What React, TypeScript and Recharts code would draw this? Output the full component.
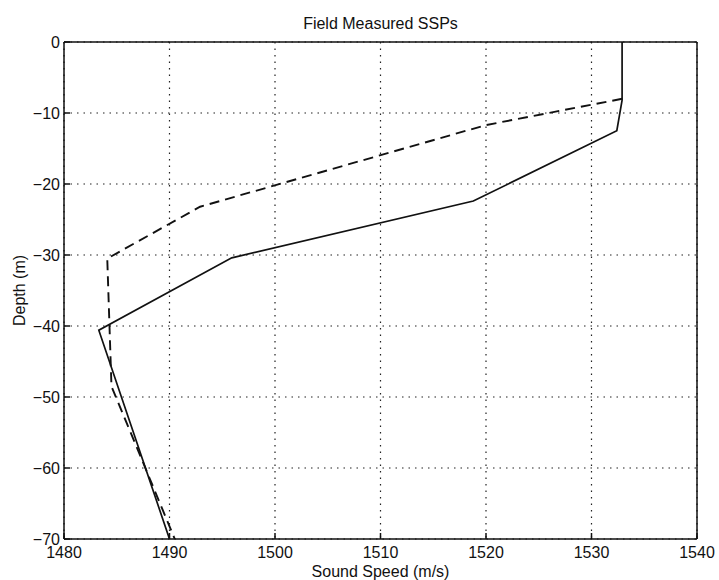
import { CartesianGrid, Line, LineChart, XAxis, YAxis } from 'recharts';

// profile 1 (solid)
const solidSpeed = [1532.9, 1532.9, 1532.4, 1518.8, 1495.9, 1483.3, 1490.0];
const solidDepth = [0, -8.2, -12.5, -22.4, -30.4, -40.6, -70];

// profile 2 (dashed)
const dashedSpeed = [1532.9, 1520.0, 1492.9, 1484.1, 1484.5, 1490.5];
const dashedDepth = [-8.0, -11.7, -23.2, -30.5, -48.5, -70];

const xTicks = [1480, 1490, 1500, 1510, 1520, 1530, 1540];
const yTicks = [-70, -60, -50, -40, -30, -20, -10, 0];

const FONT = '"Liberation Sans", Arial, Helvetica, sans-serif';
const INK = '#111';

const fmtNeg = (v: number) => String(v).replace('-', '\u2212');

export default function App() {
  const solid = solidSpeed.map((s, i) => ({ speed: s, depth: solidDepth[i] }));
  const dashed = dashedSpeed.map((s, i) => ({ speed: s, depth: dashedDepth[i] }));

  const tickStyle = { fontSize: 16, fill: INK, fontFamily: FONT };

  return (
    <div style={{ position: 'absolute', left: 0, top: 0, background: '#fff', fontFamily: FONT }}>
      <LineChart width={719} height={580} margin={{ top: 41, right: 21, bottom: 5, left: 14 }}>
        <CartesianGrid stroke="#222" strokeDasharray="1.5 5" strokeWidth={1.2} />
        <XAxis
          type="number"
          dataKey="speed"
          domain={[1480, 1540]}
          ticks={xTicks}
          height={36}
          tickSize={-6}
          tickMargin={14}
          stroke={INK}
          strokeWidth={1.5}
          tick={tickStyle}
          label={{
            value: 'Sound Speed (m/s)',
            position: 'insideBottom',
            offset: -2,
            fontSize: 16,
            fill: INK,
            fontFamily: FONT,
          }}
        />
        {/* top frame edge, shares the bottom axis scale */}
        <XAxis
          xAxisId="top"
          orientation="top"
          type="number"
          dataKey="speed"
          domain={[1480, 1540]}
          ticks={xTicks}
          height={1}
          tickSize={-6}
          tick={false}
          stroke={INK}
          strokeWidth={1.5}
          label={{
            value: 'Field Measured SSPs',
            position: 'top',
            offset: 12,
            fontSize: 16,
            fill: INK,
            fontFamily: FONT,
          }}
        />
        <YAxis
          type="number"
          domain={[-70, 0]}
          ticks={yTicks}
          width={50}
          tickSize={-6}
          tickMargin={10}
          stroke={INK}
          strokeWidth={1.5}
          tick={tickStyle}
          tickFormatter={fmtNeg}
          label={{
            value: 'Depth (m)',
            angle: -90,
            position: 'center',
            dx: -20,
            fontSize: 16,
            fill: INK,
            fontFamily: FONT,
          }}
        />
        {/* right frame edge, same scale as the left axis */}
        <YAxis
          yAxisId="right"
          orientation="right"
          type="number"
          domain={[-70, 0]}
          ticks={yTicks}
          width={1}
          tickSize={-6}
          tick={false}
          stroke={INK}
          strokeWidth={1.5}
        />
        <Line
          data={solid}
          dataKey="depth"
          stroke={INK}
          strokeWidth={1.7}
          dot={false}
          isAnimationActive={false}
        />
        <Line
          data={dashed}
          dataKey="depth"
          xAxisId="top"
          yAxisId="right"
          stroke={INK}
          strokeWidth={1.9}
          strokeDasharray="10 6"
          dot={false}
          isAnimationActive={false}
        />
      </LineChart>
    </div>
  );
}
